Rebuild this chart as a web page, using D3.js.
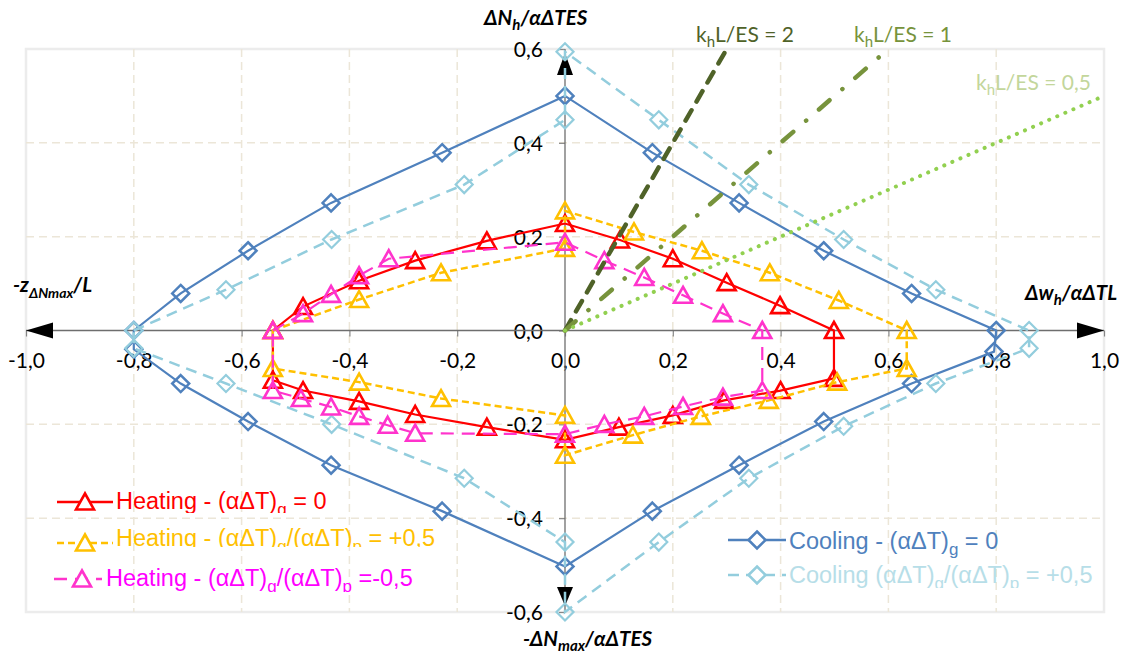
<!DOCTYPE html>
<html lang="en">
<head>
<meta charset="UTF-8">
<title>Normalised axial force / displacement envelopes</title>
<script src="https://d3js.org/d3.v7.min.js"></script>
<style>
  body { margin: 0; background: #fff; }
  svg { display: block; }
  .tick text { font-family: Lato, sans-serif; font-size: 21px; fill: #000; }
  .tick line { stroke: #868686; stroke-width: 1.2; }
  .axis-title { font-family: Lato, sans-serif; font-size: 20.5px; font-weight: bold; font-style: italic; fill: #000; }
  .k-label { font-family: Lato, sans-serif; font-size: 21px; }
  .legend-text { font-family: "Liberation Sans", Arial, sans-serif; font-size: 23.5px; }
</style>
</head>
<body>
<div id="chart"></div>
<script>
// tick values + labels (decimal comma as in the original)
const xTicks = [-1, -0.8, -0.6, -0.4, -0.2, 0, 0.2, 0.4, 0.6, 0.8, 1];
const xTickLabels = ["-1,0", "-0,8", "-0,6", "-0,4", "-0,2", "0,0", "0,2", "0,4", "0,6", "0,8", "1,0"];
const yTicks = [-0.6, -0.4, -0.2, 0, 0.2, 0.4, 0.6];
const yTickLabels = ["-0,6", "-0,4", "-0,2", "0,0", "0,2", "0,4", "0,6"];

// Cooling - (aDT)g = 0
const coolX = [-0.8, -0.713, -0.588, -0.434, -0.228, 0, 0.162, 0.323, 0.480, 0.643, 0.800,
  0.796, 0.643, 0.480, 0.323, 0.162, 0, -0.228, -0.434, -0.588, -0.713, -0.8];
const coolY = [0, 0.079, 0.170, 0.272, 0.379, 0.500, 0.379, 0.272, 0.170, 0.079, 0,
  -0.045, -0.113, -0.194, -0.287, -0.385, -0.503, -0.385, -0.287, -0.194, -0.113, -0.040];

// Cooling (aDT)g/(aDT)p = +0,5
const coolHalfX = [-0.8, -0.629, -0.433, -0.187, 0, 0, 0.174, 0.341, 0.517, 0.688, 0.861,
  0.861, 0.688, 0.517, 0.341, 0.174, 0, 0, -0.187, -0.433, -0.629, -0.8];
const coolHalfY = [0, 0.087, 0.194, 0.311, 0.449, 0.594, 0.449, 0.311, 0.194, 0.087, 0,
  -0.038, -0.113, -0.204, -0.315, -0.451, -0.600, -0.451, -0.315, -0.200, -0.113, -0.038];

// Heating - (aDT)g = 0
const heatX = [-0.542, -0.486, -0.382, -0.278, -0.145, 0, 0.102, 0.200, 0.300, 0.399, 0.499,
  0.499, 0.400, 0.295, 0.200, 0.100, 0, -0.145, -0.278, -0.382, -0.486, -0.542];
const heatY = [0, 0.051, 0.106, 0.149, 0.191, 0.228, 0.193, 0.153, 0.102, 0.053, 0,
  -0.102, -0.128, -0.149, -0.181, -0.206, -0.233, -0.206, -0.179, -0.151, -0.128, -0.106];

// Heating - (aDT)g/(aDT)p = +0,5
const heatPlusX = [-0.542, -0.382, -0.230, 0, 0, 0.128, 0.254, 0.380, 0.508, 0.634,
  0.634, 0.505, 0.378, 0.252, 0.126, 0, 0, -0.230, -0.382, -0.542];
const heatPlusY = [0, 0.066, 0.123, 0.175, 0.255, 0.210, 0.170, 0.123, 0.064, 0,
  -0.081, -0.110, -0.149, -0.183, -0.223, -0.266, -0.181, -0.145, -0.110, -0.081];

// Heating - (aDT)g/(aDT)p = -0,5
const heatMinusX = [-0.542, -0.486, -0.434, -0.382, -0.327, 0, 0.073, 0.147, 0.219, 0.293, 0.366,
  0.366, 0.293, 0.219, 0.147, 0.073, 0, -0.278, -0.329, -0.382, -0.434, -0.490, -0.542];
const heatMinusY = [0, 0.036, 0.077, 0.117, 0.153, 0.188, 0.149, 0.113, 0.075, 0.036, 0,
  -0.128, -0.142, -0.162, -0.183, -0.200, -0.221, -0.219, -0.202, -0.183, -0.163, -0.145, -0.128];

// khL/ES reference lines, all start at origin
const kLabels = ["2", "1", "0,5"];
const kEndX = [0.3, 0.6, 1.0];
const kEndY = [0.6, 0.6, 0.5];

const width = 1131, height = 653;
const x = d3.scaleLinear().domain([-1, 1]).range([26, 1104]);
const y = d3.scaleLinear().domain([-0.6, 0.6]).range([612, 49]);

const svg = d3.select("#chart").append("svg")
  .attr("width", width)
  .attr("height", height);

function richText(g, tx, ty, parts, cls, color, subSize, subShift) {
  const t = g.append("text").attr("x", tx).attr("y", ty).attr("class", cls).attr("fill", color);
  let shifted = 0;
  parts.forEach(p => {
    const sp = t.append("tspan").text(p[0]);
    const target = p[1] ? subShift : 0;
    if (target !== shifted) { sp.attr("dy", target - shifted); shifted = target; }
    if (p[1]) sp.attr("font-size", subSize);
  });
  return t;
}

// plot frame
svg.append("rect")
  .attr("x", x(-1)).attr("y", y(0.6))
  .attr("width", x(1) - x(-1)).attr("height", y(-0.6) - y(0.6))
  .attr("fill", "none").attr("stroke", "#ececec").attr("stroke-width", 2.5);

// grid
const grid = svg.append("g").attr("stroke", "#ece6d8").attr("stroke-width", 1.5).attr("stroke-dasharray", "8,5");
grid.selectAll(".gx").data(xTicks.filter(d => d !== 0 && Math.abs(d) < 1)).enter()
  .append("line")
  .attr("x1", d => x(d)).attr("x2", d => x(d))
  .attr("y1", y(0.6)).attr("y2", y(-0.6));
grid.selectAll(".gy").data(yTicks.filter(d => d !== 0 && Math.abs(d) < 0.6)).enter()
  .append("line")
  .attr("y1", d => y(d)).attr("y2", d => y(d))
  .attr("x1", x(-1)).attr("x2", x(1));

// axes through the origin
const xAxis = svg.append("g")
  .attr("transform", `translate(0,${y(0)})`)
  .call(d3.axisBottom(x).tickValues(xTicks).tickFormat((d, i) => xTickLabels[i])
    .tickSize(6).tickSizeOuter(0).tickPadding(17));
const yAxis = svg.append("g")
  .attr("transform", `translate(${x(0)},0)`)
  .call(d3.axisLeft(y).tickValues(yTicks).tickFormat((d, i) => yTickLabels[i])
    .tickSize(6).tickSizeOuter(0).tickPadding(16));
xAxis.select(".domain").remove();
yAxis.select(".domain").remove();
yAxis.selectAll(".tick text").attr("dy", "0.36em");

svg.append("line")
  .attr("x1", x(-1)).attr("x2", x(1)).attr("y1", y(0)).attr("y2", y(0))
  .attr("stroke", "#6e6e6e").attr("stroke-width", 1.3);
svg.append("line")
  .attr("x1", x(0)).attr("x2", x(0)).attr("y1", y(0.6)).attr("y2", y(-0.6))
  .attr("stroke", "#6e6e6e").attr("stroke-width", 1.3);

// arrow heads
const arrows = svg.append("g").attr("fill", "#000");
const ax0 = x(0), ay0 = y(0);
arrows.append("path").attr("d", `M${x(-1)},${ay0} L${x(-1) + 27},${ay0 - 8} L${x(-1) + 27},${ay0 + 8} Z`);
arrows.append("path").attr("d", `M${x(1)},${ay0} L${x(1) - 27},${ay0 - 8} L${x(1) - 27},${ay0 + 8} Z`);
arrows.append("path").attr("d", `M${ax0},${y(0.6) + 4} L${ax0 + 8},${y(0.6) + 26} L${ax0 - 8},${y(0.6) + 26} Z`);
arrows.append("path").attr("d", `M${ax0},${y(-0.6) - 6} L${ax0 + 8},${y(-0.6) - 25} L${ax0 - 8},${y(-0.6) - 25} Z`);

// marker shapes
const triangle = "M0,-8.5 L9,7.5 L-9,7.5 Z";
const diamond = "M0,-8.5 L8.5,0 L0,8.5 L-8.5,0 Z";

const series = [
  { xs: coolX, ys: coolY, color: "#4f81bd", dash: null, w: 2.2, marker: diamond, mw: 2.5 },
  { xs: coolHalfX, ys: coolHalfY, color: "#93cddd", dash: "11,7", w: 2.5, marker: diamond, mw: 2.2 },
  { xs: heatX, ys: heatY, color: "#ff0000", dash: null, w: 2.2, marker: triangle, mw: 2.6 },
  { xs: heatPlusX, ys: heatPlusY, color: "#ffc000", dash: "7,4", w: 2.5, marker: triangle, mw: 2.6 },
  { xs: heatMinusX, ys: heatMinusY, color: "#ff33cc", dash: "13,8", w: 2.2, marker: triangle, mw: 2.6 }
];

const closedLine = d3.line().x(d => x(d[0])).y(d => y(d[1])).curve(d3.curveLinearClosed);

series.forEach(s => {
  const pts = s.xs.map((v, i) => [v, s.ys[i]]);
  const g = svg.append("g");
  g.append("path")
    .attr("d", closedLine(pts))
    .attr("fill", "none")
    .attr("stroke", s.color)
    .attr("stroke-width", s.w)
    .attr("stroke-dasharray", s.dash);
  g.selectAll("path.mk").data(pts).enter()
    .append("path")
    .attr("class", "mk")
    .attr("d", s.marker)
    .attr("transform", d => `translate(${x(d[0])},${y(d[1])})`)
    .attr("fill", "none")
    .attr("stroke", s.color)
    .attr("stroke-width", s.mw);
});

// khL/ES lines
const kStyles = [
  { color: "#4f6228", dash: "12,10", w: 4.5, labelColor: "#4f6228", lx: 696, ly: 42 },
  { color: "#77933c", dash: "14,17,0.1,17", w: 4.5, labelColor: "#77933c", lx: 854, ly: 42 },
  { color: "#92d050", dash: "0.1,8.7", w: 4, labelColor: "#c3d69b", lx: 976, ly: 90 }
];
kEndX.forEach((ex, i) => {
  const st = kStyles[i];
  svg.append("line")
    .attr("x1", x(0)).attr("y1", y(0))
    .attr("x2", x(ex)).attr("y2", y(kEndY[i]))
    .attr("stroke", st.color)
    .attr("stroke-width", st.w)
    .attr("stroke-linecap", "round")
    .attr("stroke-dasharray", st.dash);
  richText(svg, st.lx, st.ly, [["k"], ["h", true], ["L/ES = " + kLabels[i]]], "k-label", st.labelColor, 15, 5);
});

// axis titles
richText(svg, 484, 25, [["ΔN"], ["h", true], ["/αΔTES"]], "axis-title", "#000", 15, 5);
richText(svg, 13, 292, [["-z"], ["ΔNmax", true], ["/L"]], "axis-title", "#000", 14, 6);
richText(svg, 1025, 300, [["Δw"], ["h", true], ["/αΔTL"]], "axis-title", "#000", 15, 5);
richText(svg, 523, 646, [["-ΔN"], ["max", true], ["/αΔTES"]], "axis-title", "#000", 15, 5);

// legends
const legendItems = [
  { parts: [["Heating - (αΔT)"], ["g", true], [" = 0"]], color: "#ff0000", text: "#ff0000",
    dash: null, marker: triangle, x0: 57, x1: 113, mx: 85, ly: 502, tx: 116, ty: 509, clip: 513 },
  { parts: [["Heating - (αΔT)"], ["g", true], ["/(αΔT)"], ["p", true], [" = +0,5"]], color: "#ffc000", text: "#ffc000",
    dash: "7,4", marker: triangle, x0: 57, x1: 113, mx: 85, ly: 543, tx: 116, ty: 546, clip: 547 },
  { parts: [["Heating - (αΔT)"], ["g", true], ["/(αΔT)"], ["p", true], [" =-0,5"]], color: "#ff33cc", text: "#ff00ff",
    dash: "13,8", marker: triangle, x0: 54, x1: 102, mx: 82, ly: 579, tx: 106, ty: 586, clip: 592 },
  { parts: [["Cooling - (αΔT)"], ["g", true], [" = 0"]], color: "#4f81bd", text: "#4f81bd",
    dash: null, marker: diamond, x0: 728, x1: 786, mx: 757, ly: 540, tx: 789, ty: 549, clip: 560 },
  { parts: [["Cooling (αΔT)"], ["g", true], ["/(αΔT)"], ["p", true], [" = +0,5"]], color: "#93cddd", text: "#b7dee8",
    dash: "11,7", marker: diamond, x0: 728, x1: 786, mx: 757, ly: 575, tx: 789, ty: 583, clip: 588 }
];

legendItems.forEach((it, i) => {
  const g = svg.append("g");
  g.append("line")
    .attr("x1", it.x0).attr("x2", it.x1).attr("y1", it.ly).attr("y2", it.ly)
    .attr("stroke", it.color).attr("stroke-width", 2.5)
    .attr("stroke-dasharray", it.dash);
  g.append("path")
    .attr("d", it.marker)
    .attr("transform", `translate(${it.mx},${it.ly})`)
    .attr("fill", "#fff").attr("stroke", it.color).attr("stroke-width", 2.6);
  svg.append("clipPath").attr("id", "lc" + i)
    .append("rect").attr("x", 0).attr("y", 0).attr("width", width).attr("height", it.clip);
  const tg = g.append("g").attr("clip-path", `url(#lc${i})`);
  richText(tg, it.tx, it.ty, it.parts, "legend-text", it.text, 17, 6);
});
</script>
</body>
</html>
